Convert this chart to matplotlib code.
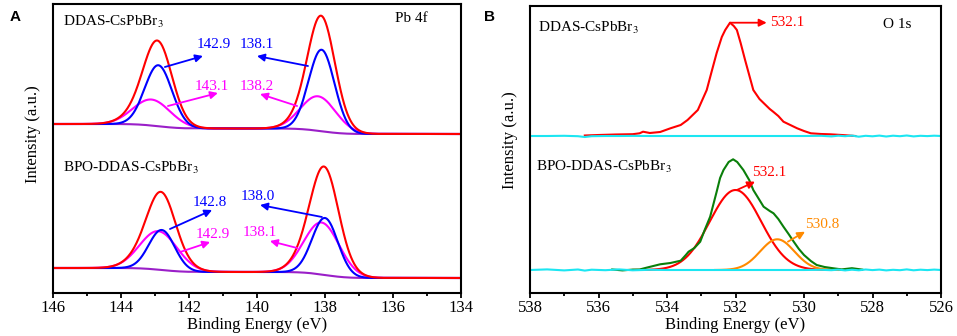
import math
import numpy as np
import matplotlib
matplotlib.use("Agg")
import matplotlib.pyplot as plt

plt.rcParams["font.family"] = ["Liberation Serif", "DejaVu Serif"]
plt.rcParams["mathtext.fontset"] = "stix"

# ---------------- Panel A: Pb 4f (fitted components: centre eV, amplitude, sigma) ----------------
ddas_pb_blue = [(142.9, 61.0, 0.40), (138.1, 81.5, 0.38)]
ddas_pb_magenta = [(143.1, 26.0, 0.55), (138.2, 34.5, 0.52)]
ddas_pb_bg_right = 159.0
ddas_pb_bg_steps = [(142.9, 4.5), (138.1, 5.5)]

bpo_pb_blue = [(142.8, 40.0, 0.38), (138.0, 57.0, 0.38)]
bpo_pb_magenta = [(142.9, 38.5, 0.55), (138.1, 52.0, 0.52)]
bpo_pb_bg_right = 15.0
bpo_pb_bg_steps = [(142.8, 4.0), (138.0, 6.0)]

pb_ticks = [146, 144, 142, 140, 138, 136, 134]

# ---------------- Panel B: O 1s ----------------
ddas_o_be = [536.4, 536.0, 535.5, 535.0, 534.8, 534.7, 534.5, 534.2, 533.9, 533.6, 533.4,
             533.1, 532.84, 532.7, 532.55, 532.4, 532.3, 532.16, 532.05, 531.96, 531.85,
             531.72, 531.6, 531.48, 531.3, 531.18, 531.0, 530.9, 530.75, 530.6, 530.4,
             530.2, 530.0, 529.8, 529.5, 529.24, 528.9, 528.5]
ddas_o_raw = [157.5, 158.0, 158.5, 158.8, 159.7, 161.3, 160.0, 161.0, 164.7, 168.0, 173.0,
              183.0, 203.0, 221.0, 240.0, 256.0, 263.0, 270.3, 267.0, 263.0, 250.0,
              233.0, 218.0, 203.0, 194.0, 190.0, 184.0, 181.3, 177.0, 171.3, 168.0,
              164.7, 162.0, 159.7, 159.0, 158.7, 158.0, 157.0]

cyan_be = [538.0, 537.5, 537.0, 536.6, 536.4, 536.2, 535.8, 535.4, 535.0, 534.5, 534.0,
           533.0, 532.0, 531.0, 530.0, 529.5, 529.2, 529.0, 528.8, 528.6, 528.4, 528.2,
           528.0, 527.8, 527.6, 527.4, 527.2, 527.0, 526.8, 526.6, 526.4, 526.2, 526.0]
ddas_o_cyan = [157.0, 157.0, 157.2, 156.8, 156.0, 156.8, 157.0, 157.0, 157.1, 157.0, 157.0,
               157.0, 157.0, 157.0, 157.0, 157.2, 156.6, 157.3, 156.8, 157.4, 156.3, 157.2,
               156.7, 157.4, 156.5, 157.3, 156.8, 157.5, 156.6, 157.2, 156.9, 157.3, 157.0]
bpo_o_cyan = [23.0, 23.6, 22.6, 23.5, 22.4, 23.3, 22.8, 23.6, 22.7, 23.2, 23.0,
              23.0, 23.0, 23.0, 23.0, 23.2, 22.8, 23.4, 22.6, 23.3, 22.7, 23.5,
              22.9, 23.4, 22.6, 23.2, 22.8, 23.6, 22.7, 23.3, 22.9, 23.4, 23.0]

bpo_o_be = [535.6, 535.3, 535.0, 534.8, 534.6, 534.4, 534.2, 533.9, 533.6, 533.45, 533.37,
            533.2, 533.03, 532.9, 532.74, 532.55, 532.45, 532.35, 532.2, 532.07, 531.95,
            531.77, 531.6, 531.48, 531.3, 531.18, 531.0, 530.89, 530.75, 530.6, 530.45,
            530.3, 530.15, 530.0, 529.8, 529.63, 529.4, 529.14, 528.9, 528.6, 528.3]
bpo_o_raw = [23.5, 22.6, 23.4, 23.5, 25.3, 27.0, 28.7, 30.0, 32.3, 38.0, 41.3,
             45.0, 51.3, 63.0, 76.3, 101.3, 115.0, 123.0, 131.0, 133.7, 131.0,
             123.0, 113.0, 103.0, 93.0, 86.3, 82.0, 79.7, 74.0, 66.3, 59.0,
             51.3, 44.0, 38.0, 32.0, 28.0, 26.0, 24.7, 23.6, 24.8, 23.4]
bpo_o_bg = 23.0
bpo_o_red = [(532.0, 80.0, 0.75)]
bpo_o_orange = [(530.78, 30.7, 0.50)]

o_ticks = [538, 536, 534, 532, 530, 528, 526]

# ---------------- helpers ----------------
_erf = np.vectorize(math.erf)


def gauss(x, c, a, s):
    return a * np.exp(-((x - c) ** 2) / (2 * s * s))


def shirley_like(x, right, steps, width=0.7):
    y = np.full_like(x, right)
    for c, h in steps:
        y = y + h * 0.5 * (1 + _erf((x - c) / width))
    return y


RED = "#FF0000"
BLUE = "#0000FF"
MAG = "#FF00FF"
PURP = "#9A1FC8"
CYAN = "#1CE6F2"
GREEN = "#0A7F0A"
ORANGE = "#FF8A00"
LW = 1.5

W, H = 957, 336
fig = plt.figure(figsize=(W / 100, H / 100), dpi=100)
axA = fig.add_axes([53 / W, (H - 293) / H, 408 / W, 289 / H])
axB = fig.add_axes([530 / W, (H - 293) / H, 411 / W, 287 / H])


def style(ax, xlim, ticks, ylim):
    ax.set_xlim(*xlim)
    ax.set_ylim(*ylim)
    ax.set_xticks(ticks)
    ax.set_xticks(np.arange(min(xlim), max(xlim) + 0.5, 1), minor=True)
    ax.set_yticks([])
    for sp in ax.spines.values():
        sp.set_linewidth(1.5)
    ax.tick_params(axis="x", which="major", direction="out", length=3.5, width=1.3,
                   labelsize=12, pad=1.5)
    ax.tick_params(axis="x", which="minor", direction="out", length=2.0, width=1.3)


# ---- Panel A ----
x = np.linspace(134, 146, 1500)
for blue, mag, bgr, bgs in [(ddas_pb_blue, ddas_pb_magenta, ddas_pb_bg_right, ddas_pb_bg_steps),
                            (bpo_pb_blue, bpo_pb_magenta, bpo_pb_bg_right, bpo_pb_bg_steps)]:
    bg = shirley_like(x, bgr, bgs)
    bl = sum(gauss(x, *p) for p in blue)
    mg = sum(gauss(x, *p) for p in mag)
    axA.plot(x, bg, color=PURP, lw=LW)
    axA.plot(x, bg + mg, color=MAG, lw=LW)
    axA.plot(x, bg + bl, color=BLUE, lw=LW)
    axA.plot(x, bg + bl + mg, color=RED, lw=LW)

style(axA, (146, 134), pb_ticks, (0, 289))

tfs = 11
axA.text(145.71, 271, "DDAS-CsPbBr$_3$", fontsize=tfs, va="center", ha="left")
axA.text(135.94, 275, "Pb 4f", fontsize=tfs, va="center", ha="left")
axA.text(145.71, 125, "BPO-DDAS-CsPbBr$_3$", fontsize=tfs, va="center", ha="left")

annA = [
    ("142.9", BLUE, (141.28, 248), (142.71, 226), (141.59, 237)),
    ("138.1", BLUE, (140.01, 248), (138.50, 227), (140.00, 237)),
    ("143.1", MAG, (141.34, 207), (142.62, 187), (141.15, 200)),
    ("138.2", MAG, (140.01, 207), (138.82, 187), (139.91, 199)),
    ("142.8", BLUE, (141.40, 91), (142.56, 64), (141.32, 83)),
    ("138.0", BLUE, (139.99, 96), (138.09, 76), (139.91, 88)),
    ("142.9", MAG, (141.31, 59), (142.26, 41), (141.38, 51)),
    ("138.1", MAG, (139.91, 60), (138.82, 45), (139.62, 52)),
]
for txt, col, tpos, a0, a1 in annA:
    axA.text(*tpos, txt, color=col, fontsize=tfs, ha="center", va="center")
    axA.annotate("", xy=a1, xytext=a0,
                 arrowprops=dict(arrowstyle="-|>", color=col, lw=1.3,
                                 mutation_scale=11, shrinkA=0, shrinkB=0))

# ---- Panel B ----
xb = np.linspace(526, 538, 1500)
axB.plot(ddas_o_be, ddas_o_raw, color=RED, lw=LW)
axB.plot(cyan_be, ddas_o_cyan, color=CYAN, lw=LW)

rmask = (xb > 529.0) & (xb < 535.0)
omask = (xb > 528.8) & (xb < 532.6)
axB.plot(xb[rmask], bpo_o_bg + sum(gauss(xb[rmask], *p) for p in bpo_o_red), color=RED, lw=LW)
axB.plot(xb[omask], bpo_o_bg + sum(gauss(xb[omask], *p) for p in bpo_o_orange), color=ORANGE, lw=LW)
axB.plot(bpo_o_be, bpo_o_raw, color=GREEN, lw=LW)
axB.plot(cyan_be, bpo_o_cyan, color=CYAN, lw=LW)

style(axB, (538, 526), o_ticks, (0, 287))

axB.text(537.77, 265, "DDAS-CsPbBr$_3$", fontsize=tfs, va="center", ha="left")
axB.text(527.69, 269, "O 1s", fontsize=tfs, va="center", ha="left")
axB.text(537.83, 126, "BPO-DDAS-CsPbBr$_3$", fontsize=tfs, va="center", ha="left")

annB = [
    ("532.1", RED, (530.99, 270), (532.16, 270.3), (531.09, 270.3)),
    ("532.1", RED, (531.52, 120), (531.96, 103), (531.43, 111.3)),
    ("530.8", ORANGE, (529.97, 68), (530.47, 51.3), (529.97, 61.3)),
]
for txt, col, tpos, a0, a1 in annB:
    axB.text(*tpos, txt, color=col, fontsize=tfs, ha="left", va="center")
    axB.annotate("", xy=a1, xytext=a0,
                 arrowprops=dict(arrowstyle="-|>", color=col, lw=1.3,
                                 mutation_scale=11, shrinkA=0, shrinkB=0))

# axis labels
for cx, cy in [(33, 134.5), (510, 140)]:
    fig.text(cx / W, 1 - cy / H, "Intensity (a.u.)", rotation=90, fontsize=12,
             ha="center", va="center")
for cx in [(53 + 461) / 2, (530 + 941) / 2]:
    fig.text(cx / W, 1 - 325 / H, "Binding Energy (eV)", fontsize=12, ha="center", va="center")

# panel letters
fig.text(15 / W, 1 - 16.7 / H, "A", fontsize=11, fontweight="bold",
         family=["Liberation Sans", "DejaVu Sans"], ha="center", va="center")
fig.text(490 / W, 1 - 16.7 / H, "B", fontsize=11, fontweight="bold",
         family=["Liberation Sans", "DejaVu Sans"], ha="center", va="center")

fig.savefig("out.png", dpi=100)
